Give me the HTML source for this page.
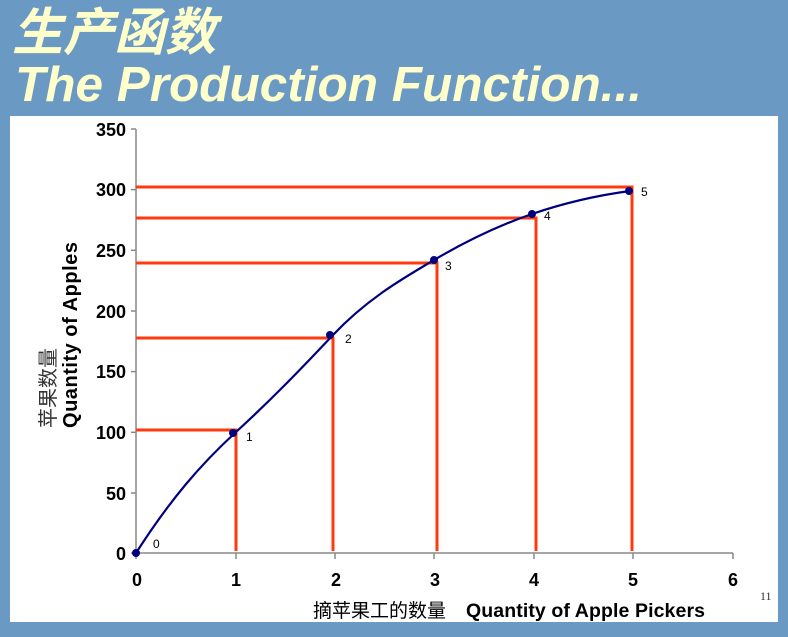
<!DOCTYPE html>
<html><head><meta charset="utf-8"><style>
html,body{margin:0;padding:0;}
body{width:788px;height:637px;background:#6a99c3;position:relative;overflow:hidden;font-family:"Liberation Sans","Noto Sans CJK SC",sans-serif;}
.t{position:absolute;color:#ffffcc;font-weight:bold;font-style:italic;white-space:nowrap;}
</style></head><body>
<div class="t" style="left:12px;top:0px;font-size:51px;line-height:56px;font-family:'Noto Sans CJK SC',sans-serif;">生产函数</div>
<div class="t" style="left:15px;top:57px;font-size:49.5px;line-height:56px;">The Production Function...</div>
<svg style="position:absolute;left:0;top:0" width="788" height="637">
<rect x="10" y="116" width="768" height="506" fill="#fff"/>
<g stroke="#888" stroke-width="1.5" fill="none">
<line x1="136" y1="129" x2="136" y2="553"/>
<line x1="136" y1="553" x2="733" y2="553"/>
<line x1="131" y1="129" x2="136" y2="129"/><line x1="131" y1="189.6" x2="136" y2="189.6"/><line x1="131" y1="250.3" x2="136" y2="250.3"/><line x1="131" y1="311" x2="136" y2="311"/><line x1="131" y1="371.6" x2="136" y2="371.6"/><line x1="131" y1="432.3" x2="136" y2="432.3"/><line x1="131" y1="493" x2="136" y2="493"/><line x1="131" y1="553" x2="136" y2="553"/>
<line x1="136" y1="553" x2="136" y2="559"/><line x1="236" y1="553" x2="236" y2="559"/><line x1="335" y1="553" x2="335" y2="559"/><line x1="434" y1="553" x2="434" y2="559"/><line x1="534" y1="553" x2="534" y2="559"/><line x1="633" y1="553" x2="633" y2="559"/><line x1="733" y1="553" x2="733" y2="559"/>
</g>
<g stroke="#ff3a10" stroke-width="3" fill="none">
<path d="M136 430H236V551"/>
<path d="M136 338H333V551"/>
<path d="M136 263H437V551"/>
<path d="M136 218H536V551"/>
<path d="M136 187H632V551"/>
</g>
<path d="M136 553 C170 500 200 465 236 432 S300 370 333 335 S400 280 434 260 S500 225 532 214 S600 195 630 191" stroke="#00007f" stroke-width="2.2" fill="none"/>
<g fill="#00007f"><circle cx="136" cy="553" r="4"/><circle cx="233" cy="433" r="4"/><circle cx="330" cy="335" r="4"/><circle cx="434" cy="260" r="4"/><circle cx="532" cy="214" r="4"/><circle cx="629" cy="191" r="4"/></g>
<g font-family="Liberation Sans" font-size="12" fill="#000">
<text x="153" y="548">0</text><text x="246" y="441">1</text><text x="345" y="343">2</text><text x="445" y="270">3</text><text x="544" y="220">4</text><text x="641" y="196">5</text>
</g>
<g font-family="Liberation Sans" font-size="18" font-weight="bold" fill="#000" text-anchor="end">
<text x="126" y="136">350</text><text x="126" y="196">300</text><text x="126" y="257">250</text><text x="126" y="318">200</text><text x="126" y="378">150</text><text x="126" y="439">100</text><text x="126" y="500">50</text><text x="126" y="560">0</text>
</g>
<g font-family="Liberation Sans" font-size="18" font-weight="bold" fill="#000" text-anchor="middle">
<text x="137" y="586">0</text><text x="236" y="586">1</text><text x="336" y="586">2</text><text x="435" y="586">3</text><text x="534" y="586">4</text><text x="633" y="586">5</text><text x="733" y="586">6</text>
</g>
<text x="760" y="600" font-family="Liberation Serif" font-size="12" fill="#333">11</text>
<text x="313" y="617" font-family="Noto Sans CJK SC,sans-serif" font-size="19" fill="#000">摘苹果工的数量</text>
<text x="466" y="617" font-family="Liberation Sans" font-size="19.5" font-weight="bold" fill="#000" textLength="239">Quantity of Apple Pickers</text>
<text transform="translate(55,428) rotate(-90)" font-family="Noto Sans CJK SC,sans-serif" font-size="20" fill="#333">苹果数量</text>
<text transform="translate(77,428) rotate(-90)" font-family="Liberation Sans" font-size="20" font-weight="bold" fill="#000" textLength="186">Quantity of Apples</text>
</svg>
</body></html>
